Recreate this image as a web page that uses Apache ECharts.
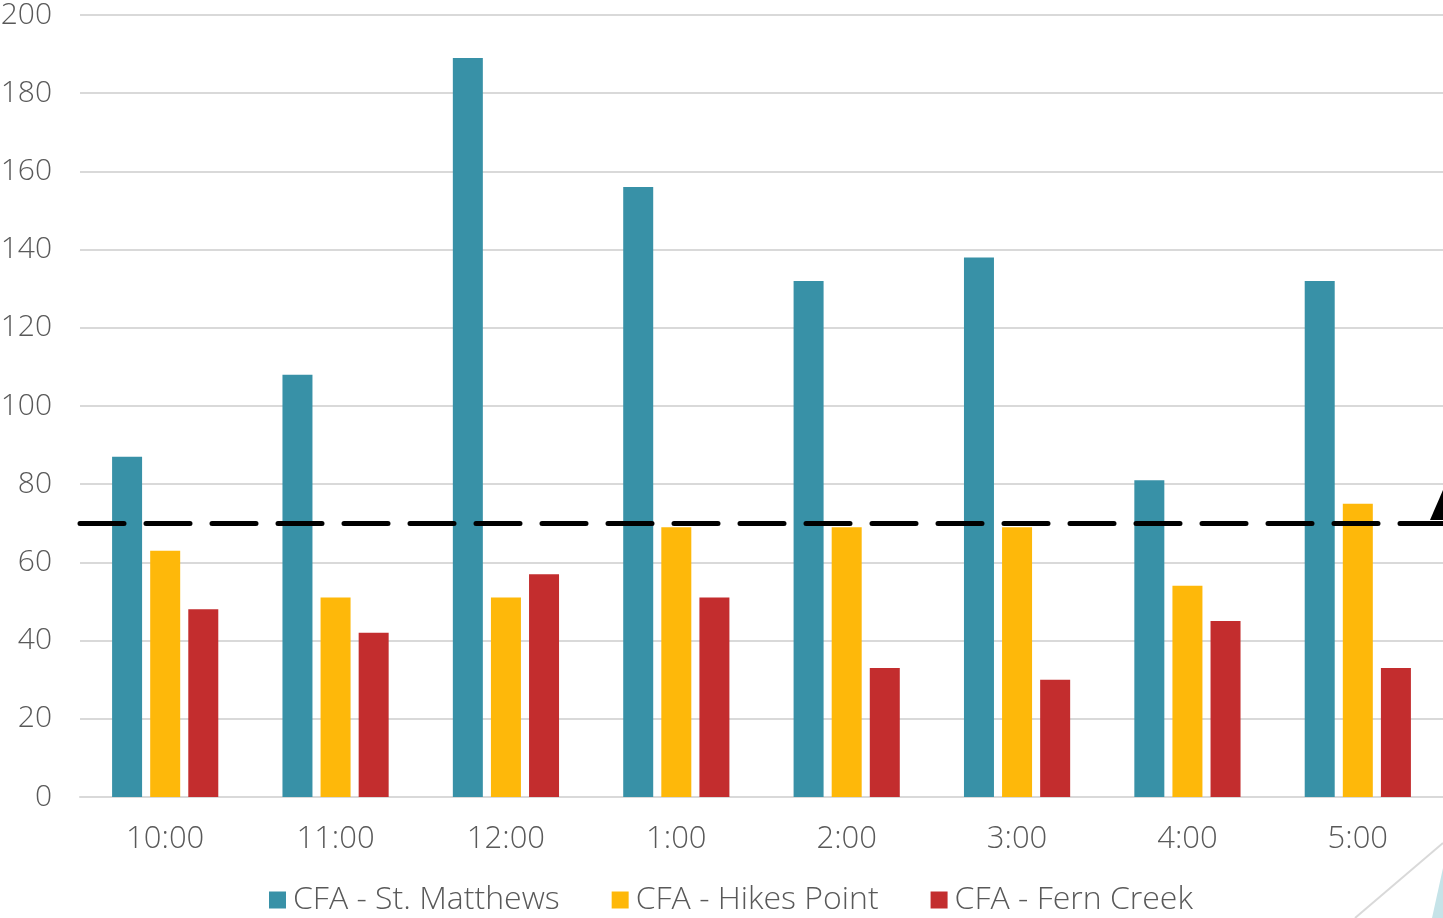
<!DOCTYPE html>
<html><head><meta charset="utf-8">
<script src="https://cdn.jsdelivr.net/npm/echarts@6/dist/echarts.min.js"></script>
<style>html,body{margin:0;padding:0;background:#fff}#c{width:1443px;height:918px}</style>
</head><body><div id="c"></div>
<script>
const categories = ['10:00','11:00','12:00','1:00','2:00','3:00','4:00','5:00'];
const stMatthews = [87,108,189,156,132,138,81,132];
const hikesPoint = [63,51,51,69,69,69,54,75];
const fernCreek = [48,42,57,51,33,30,45,33];
const targetLine = 70;
const seriesNames = ['CFA - St. Matthews','CFA - Hikes Point','CFA - Fern Creek'];
const yTicks = {min:0,max:200,interval:20};

const font = '"Open Sans", Lato, sans-serif';
const txt = '#595959';
const chart = echarts.init(document.getElementById('c'));
chart.setOption({
  animation:false,
  legend:{bottom:-3,left:264,itemWidth:17,itemHeight:17,itemGap:52,icon:'rect',
    textStyle:{fontFamily:font,fontWeight:300,fontSize:32,color:txt,padding:[0,0,0,2]}},
  grid:{left:80,right:0,top:15,bottom:121,outerBoundsMode:'none',containLabel:false},
  xAxis:{type:'category',data:categories,
    axisLine:{lineStyle:{color:'#d9d9d9',width:2}},axisTick:{show:false},
    axisLabel:{fontFamily:font,fontWeight:300,fontSize:31,color:txt,margin:27}},
  yAxis:{type:'value',min:yTicks.min,max:yTicks.max,interval:yTicks.interval,
    axisLine:{show:false},axisTick:{show:false},
    splitLine:{lineStyle:{color:'#d9d9d9',width:2}},
    axisLabel:{fontFamily:font,fontWeight:300,fontSize:30,color:txt,margin:28}},
  series:[
    {name:seriesNames[0],type:'bar',data:stMatthews,barWidth:30,barGap:'27%',itemStyle:{color:'#3891A7'},
     markLine:{silent:true,symbol:'none',label:{show:false},
       lineStyle:{color:'#000',type:[44,22],width:5,cap:'round'},
       data:[{yAxis:targetLine}]}},
    {name:seriesNames[1],type:'bar',data:hikesPoint,barWidth:30,barGap:'27%',itemStyle:{color:'#FEB80A'}},
    {name:seriesNames[2],type:'bar',data:fernCreek,barWidth:30,barGap:'27%',itemStyle:{color:'#C32D2E'}}
  ],
  graphic:[
    {type:'line',shape:{x1:1355,y1:918,x2:1443,y2:843},style:{stroke:'#d9d9d9',lineWidth:2}},
    {type:'polygon',shape:{points:[[1432,918],[1443,868],[1443,918]]},style:{fill:'#c5e3e8'}},
    {type:'polygon',shape:{points:[[1430,520],[1443,490],[1443,520]]},style:{fill:'#000'}}
  ]
});
</script></body></html>
